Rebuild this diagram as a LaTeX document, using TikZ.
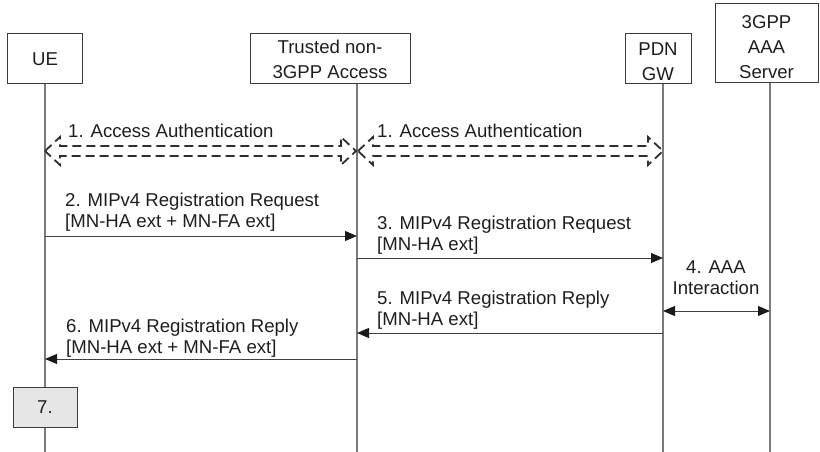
\documentclass[tikz,border=0pt]{standalone}
\usepackage{fontspec}
\setmainfont{Liberation Sans}
\usetikzlibrary{arrows.meta}
\definecolor{boxc}{HTML}{3C3C3C}
\definecolor{lifec}{HTML}{7A7A7A}
\definecolor{msgc}{HTML}{404040}
\definecolor{tipc}{HTML}{1A1A1A}
\definecolor{authc}{HTML}{2E2E2E}
\definecolor{txtc}{HTML}{1E1E1E}
\definecolor{stepfill}{HTML}{E6E6E6}
\begin{document}
\begin{tikzpicture}[x=1pt,y=-1pt,
  every node/.style={font=\fontsize{18.6}{20.7}\selectfont, inner sep=0pt, text=txtc},
  actor/.style={draw=boxc, line width=1pt, align=center, font=\fontsize{18.6}{25}\selectfont},
  life/.style={draw=lifec, line width=1.3pt},
  tip/.style={Triangle[length=12pt,width=10pt,color=tipc]},
  msg/.style={draw=msgc, line width=1pt, -{Triangle[length=12pt,width=10pt,color=tipc]}},
  bimsg/.style={draw=msgc, line width=1pt, {Triangle[length=12pt,width=10pt,color=tipc]}-{Triangle[length=12pt,width=10pt,color=tipc]}},
  lbl/.style={align=left, anchor=base west},
  auth/.style={draw=authc, line width=1.8pt, dash pattern=on 9pt off 5pt, line join=miter},
  stepbox/.style={draw=boxc, fill=stepfill, line width=1pt, minimum width=64pt, minimum height=40pt}
]
\useasboundingbox (0,0) rectangle (820,452);

% actors
\node[actor, minimum width=75pt, minimum height=50pt] (ue) at (45,59) {UE};
\node[actor, minimum width=160pt, minimum height=50pt] (tr) at (330,59) {Trusted non-\\3GPP Access};
\node[actor, minimum width=66pt, minimum height=50pt] (gw) at (658,59) {\rule{0pt}{17.5pt}PDN\\GW};
\node[actor, minimum width=103pt, minimum height=79pt] (aaa) at (766.5,43.5) {\rule{0pt}{21pt}3GPP\\AAA\\Server};

% lifeline ends
\coordinate (ueT) at (45,84);  \coordinate (ueB) at (45,452);
\coordinate (trT) at (357,84); \coordinate (trB) at (357,452);
\coordinate (gwT) at (663,84); \coordinate (gwB) at (663,452);
\coordinate (aaT) at (770,83); \coordinate (aaB) at (770,452);
\draw[life] (ueT) -- (ueB);
\draw[life] (trT) -- (trB);
\draw[life] (gwT) -- (gwB);
\draw[life] (aaT) -- (aaB);

% 1. access authentication (hollow dashed double arrows)
\draw[auth] (45,151) -- (60,137) -- (60,146) -- (341,146) -- (341,137) -- (356,151)
  -- (341,165) -- (341,156) -- (60,156) -- (60,165) -- cycle;
\draw[auth] (358,151) -- (373,137) -- (373,146) -- (648,146) -- (648,137) -- (663,151)
  -- (648,165) -- (648,156) -- (373,156) -- (373,165) -- cycle;
\node[lbl] (l1a) at (68,137) {1. Access Authentication};
\node[lbl] (l1b) at (377,137) {1. Access Authentication};

% 2
\coordinate (m2a) at (45,236); \coordinate (m2b) at (357,236);
\draw[msg] (m2a) -- (m2b);
\node[lbl] (l2) at (65,227.5) {2. MIPv4 Registration Request\\{[MN-HA ext + MN-FA ext]}};

% 3
\coordinate (m3a) at (357,258); \coordinate (m3b) at (663,258);
\draw[msg] (m3a) -- (m3b);
\node[lbl] (l3) at (377,250) {3. MIPv4 Registration Request\\{[MN-HA ext]}};

% 4
\coordinate (m4a) at (663,311); \coordinate (m4b) at (770,311);
\draw[bimsg] (m4a) -- (m4b);
\node[align=center, anchor=base] (l4) at (716,294) {4. AAA\\Interaction};

% 5
\coordinate (m5a) at (663,333); \coordinate (m5b) at (357,333);
\draw[msg] (m5a) -- (m5b);
\node[lbl] (l5) at (377,325.5) {5. MIPv4 Registration Reply\\{[MN-HA ext]}};

% 6
\coordinate (m6a) at (357,359); \coordinate (m6b) at (45,359);
\draw[msg] (m6a) -- (m6b);
\node[lbl] (l6) at (66,353) {6. MIPv4 Registration Reply\\{[MN-HA ext + MN-FA ext]}};

% 7
\node[stepbox] (s7) at (45,407) {7.};
\end{tikzpicture}
\end{document}
